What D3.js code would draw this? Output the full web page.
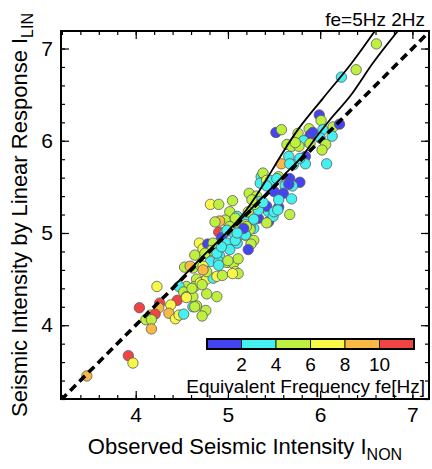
<!DOCTYPE html>
<html>
<head>
<meta charset="utf-8">
<script src="https://cdn.jsdelivr.net/npm/d3@7"></script>
<style>
  html, body { margin: 0; padding: 0; background: #fff; }
  svg { display: block; font-family: "Liberation Sans", Arial, sans-serif; }
</style>
</head>
<body>
<div id="chart"></div>
<script>
// observed (nonlinear) vs linear-response seismic intensity, coloured by equivalent frequency

const iNon = [6.61, 6.39, 6.23, 5.99, 6.01, 5.52, 5.58, 5.76, 5.88, 5.89, 5.92, 6.03, 6.14, 6.21, 6.13, 6.00,
    5.82, 6.06, 6.02, 5.64, 5.69, 5.77, 5.66, 5.84, 5.73,
    5.58, 5.71, 5.84, 6.07, 5.36, 5.44, 5.38, 5.55, 5.67, 5.78, 5.70, 5.62, 5.46, 5.23, 5.31, 5.50, 5.60,
    5.55, 5.69, 5.67, 4.81, 4.90, 5.05, 5.02, 4.97, 4.91, 4.86, 5.10, 5.20, 5.28, 5.33, 5.44,
    4.90, 4.97, 5.06, 5.13, 4.93, 5.20, 5.28, 5.25, 5.22, 4.69, 4.73, 4.78, 4.84, 4.91, 4.99, 5.02, 4.91,
    4.64, 4.53, 4.62, 4.70, 4.59, 4.81, 4.90, 4.99, 5.06, 5.11, 5.08, 5.11, 4.66, 4.73, 4.55, 4.64, 4.70,
    4.77, 4.84, 4.88, 4.77, 4.88, 4.23, 4.47, 4.52, 4.55, 4.04, 4.26, 4.45, 4.38, 4.62, 4.76, 4.72,
    4.25, 4.36, 4.11, 4.16, 4.21, 4.17, 4.43, 4.47, 4.52, 4.17, 3.92, 3.97, 3.47,
    5.10, 5.24, 5.19, 5.13, 5.08, 4.82, 4.73, 4.77, 4.94, 4.62, 5.35, 5.55, 5.44, 5.33, 5.42, 5.42,
    5.22, 5.33, 5.49,
    5.66, 5.29, 5.50, 5.54, 5.08, 5.28, 5.42, 5.24, 5.19, 4.88, 4.93, 4.90, 5.00, 4.72, 4.61, 4.55,
    4.66, 5.46, 5.53, 5.42, 5.26, 5.38, 5.89, 5.67, 5.78, 5.05, 5.02, 5.20, 5.17, 5.10, 4.99, 4.75,
    4.73, 4.64];
const iLin = [7.05, 6.77, 6.69, 6.28, 6.22, 6.09, 6.12, 6.08, 6.13, 6.06, 6.09, 6.12, 6.15, 6.18, 6.05, 6.03,
    6.00, 5.96, 5.90, 5.96, 5.94, 5.94, 5.83, 5.83, 5.98,
    5.75, 5.74, 5.75, 5.75, 5.61, 5.56, 5.65, 5.61, 5.59, 5.55, 5.51, 5.51, 5.52, 5.43, 5.40, 5.45, 5.43,
    5.28, 5.37, 5.20, 5.31, 5.31, 5.35, 5.23, 5.14, 5.13, 5.12, 5.18, 5.12, 5.05, 5.16, 5.12,
    5.01, 5.01, 5.00, 4.98, 4.95, 4.97, 4.92, 4.88, 4.82, 4.89, 4.83, 4.88, 4.89, 4.85, 4.89, 4.82, 4.75,
    4.76, 4.63, 4.62, 4.65, 4.64, 4.69, 4.69, 4.68, 4.67, 4.72, 4.58, 4.56, 4.50, 4.47, 4.42, 4.42, 4.46,
    4.50, 4.51, 4.53, 4.34, 4.31, 4.42, 4.42, 4.36, 4.31, 4.19, 4.24, 4.27, 4.22, 4.20, 4.16, 4.10,
    4.19, 4.13, 4.06, 4.11, 4.12, 4.06, 4.07, 4.11, 4.12, 3.96, 3.67, 3.59, 3.45,
    4.89, 5.07, 5.09, 5.04, 4.92, 4.81, 4.64, 4.58, 4.54, 4.31, 5.54, 5.36, 5.23, 5.34, 5.57, 5.29,
    5.23, 5.25, 5.18,
    5.53, 5.31, 5.23, 5.25, 5.16, 5.15, 5.11, 5.04, 4.98, 4.78, 4.85, 4.65, 4.70, 4.44, 4.40, 4.30,
    4.21, 5.57, 5.59, 5.51, 5.36, 5.33, 5.97, 5.75, 5.81, 4.56, 5.07, 5.07, 5.05, 5.00, 5.03, 4.78,
    4.60, 4.20];
const feHz = [5, 5, 3, 1.5, 5, 1.5, 5, 5, 5, 1.5, 1.5, 3, 5, 1.5, 3, 3,
    3, 5, 5, 5, 5, 5, 3, 1.5, 5,
    9, 3, 3, 3, 3, 3, 5, 5, 1.5, 1.5, 3, 3, 3, 5, 5, 1.5, 1.5,
    1.5, 3, 5, 7, 5, 5, 5, 5, 9, 5, 3, 3, 3, 1.5, 1.5,
    11, 3, 3, 3, 1.5, 7, 5, 5, 1.5, 7, 7, 1.5, 5, 5, 3, 3, 3,
    5, 5, 5, 5, 9, 3, 3, 5, 5, 5, 7, 5, 5, 5, 5, 5, 7,
    7, 3, 7, 5, 5, 7, 3, 5, 5, 11, 11, 11, 7, 3, 5, 5,
    9, 9, 5, 7, 11, 5, 7, 7, 3, 9, 11, 7, 9,
    3, 3, 5, 5, 3, 5, 7, 5, 5, 5, 3, 3, 3, 3, 7, 1.5,
    5, 3, 3,
    1.5, 5, 3, 3, 5, 3, 5, 5, 3, 3, 3, 3, 5, 5, 5, 7,
    5, 3, 3, 3, 5, 3, 5, 3, 3, 7, 5, 5, 1.5, 3, 3, 5,
    9, 5];

// I_LIN / I_NON relations for two equivalent frequencies
const curve5x = [4.42, 4.7, 5.0, 5.2, 5.4, 5.55, 5.73, 6.03, 6.34, 6.6];
const curve5y = [4.43, 4.72, 5.02, 5.25, 5.55, 5.8, 6.08, 6.46, 6.84, 7.2];
const curve2x = [5.05, 5.3, 5.6, 5.82, 5.95, 6.1, 6.33, 6.57, 6.85];
const curve2y = [5.06, 5.31, 5.62, 5.85, 6.03, 6.22, 6.49, 6.84, 7.2];

const xTicks = [4, 5, 6, 7];
const yTicks = [4, 5, 6, 7];
const feBreaks = [2, 4, 6, 8, 10];
const feColors = ['#4444f2', '#44f0f0', '#bef040', '#f8f846', '#f8ba44', '#f04444'];

function renderChart() {
    const width = 432, height = 469;
    const plot = { left: 61, top: 31, right: 429, bottom: 399 };

    const svg = d3.select('#chart').append('svg')
        .attr('width', width)
        .attr('height', height);

    const x = d3.scaleLinear().domain([3.19, 7.18]).range([plot.left, plot.right]);
    const y = d3.scaleLinear().domain([3.2, 7.19]).range([plot.bottom, plot.top]);
    const color = d3.scaleThreshold().domain(feBreaks).range(feColors);

    svg.append('defs').append('clipPath').attr('id', 'clip')
        .append('rect')
        .attr('x', plot.left).attr('y', plot.top)
        .attr('width', plot.right - plot.left).attr('height', plot.bottom - plot.top);

    // points
    const points = d3.range(iNon.length).map(i => ({ x: iNon[i], y: iLin[i], fe: feHz[i] }));
    svg.append('g').attr('clip-path', 'url(#clip)')
        .selectAll('circle').data(points).enter().append('circle')
        .attr('cx', d => x(d.x))
        .attr('cy', d => y(d.y))
        .attr('r', 5.2)
        .attr('fill', d => color(d.fe))
        .attr('stroke', '#5a5a5a')
        .attr('stroke-width', 0.8);

    // curves + 1:1 line
    const lines = svg.append('g').attr('clip-path', 'url(#clip)');
    const line = d3.line().x(d => x(d[0])).y(d => y(d[1]));
    lines.append('path')
        .attr('d', line([[3.19, 3.19], [7.19, 7.19]]))
        .attr('fill', 'none').attr('stroke', '#000')
        .attr('stroke-width', 3.6).attr('stroke-dasharray', '8,5');
    const smooth = d3.line().x(d => x(d[0])).y(d => y(d[1])).curve(d3.curveMonotoneX);
    [[curve5x, curve5y], [curve2x, curve2y]].forEach(([cx, cy]) => {
        lines.append('path')
            .attr('d', smooth(cx.map((v, i) => [v, cy[i]])))
            .attr('fill', 'none').attr('stroke', '#000').attr('stroke-width', 1.8);
    });

    // axes, ticks pointing inward on all four sides
    const minor = d3.range(3.2, 7.19, 0.2).map(v => +v.toFixed(1));
    const addAxis = (axis, tr, vals, size, fmt) => {
        const g = svg.append('g').attr('transform', tr)
            .call(axis.tickValues(vals).tickSize(size).tickPadding(8).tickFormat(fmt));
        g.select('.domain').remove();
        g.selectAll('line').attr('stroke', '#000').attr('stroke-width', 1.2);
        g.selectAll('text').style('font-size', '21px').attr('fill', '#000').style('font-family', 'Liberation Sans, Arial, sans-serif');
        return g;
    };
    const bottomT = `translate(0,${plot.bottom})`, topT = `translate(0,${plot.top})`;
    const leftT = `translate(${plot.left},0)`, rightT = `translate(${plot.right},0)`;
    addAxis(d3.axisBottom(x), bottomT, minor, -4, '');
    addAxis(d3.axisBottom(x), bottomT, xTicks, -8, d3.format('d'));
    addAxis(d3.axisTop(x), topT, minor, -4, '');
    addAxis(d3.axisTop(x), topT, xTicks, -8, '');
    addAxis(d3.axisLeft(y), leftT, minor, -4, '');
    addAxis(d3.axisLeft(y), leftT, yTicks, -8, d3.format('d'));
    addAxis(d3.axisRight(y), rightT, minor, -4, '');
    addAxis(d3.axisRight(y), rightT, yTicks, -8, '');

    svg.append('rect')
        .attr('x', plot.left).attr('y', plot.top)
        .attr('width', plot.right - plot.left).attr('height', plot.bottom - plot.top)
        .attr('fill', 'none').attr('stroke', '#000').attr('stroke-width', 2);

    // axis titles
    const xTitle = svg.append('text')
        .attr('x', (plot.left + plot.right) / 2).attr('y', 454)
        .attr('text-anchor', 'middle').style('font-size', '22px')
        .text('Observed Seismic Intensity I');
    xTitle.append('tspan').attr('dy', 6).style('font-size', '16px').text('NON');

    const yTitle = svg.append('text')
        .attr('transform', `translate(27,${(plot.top + plot.bottom) / 2}) rotate(-90)`)
        .attr('text-anchor', 'middle').style('font-size', '22px')
        .text('Seismic Intensity by Linear Response I');
    yTitle.append('tspan').attr('dy', 6).style('font-size', '16px').text('LIN');

    svg.append('text')
        .attr('x', 425).attr('y', 26)
        .attr('text-anchor', 'end').style('font-size', '19px')
        .text('fe=5Hz 2Hz');

    // colour bar legend
    const cb = d3.scaleLinear().domain([0, 12]).range([207, 414]);
    const bins = [0].concat(feBreaks, [12]);
    const legend = svg.append('g');
    legend.selectAll('rect').data(feColors).enter().append('rect')
        .attr('x', (d, i) => cb(bins[i]))
        .attr('y', 339)
        .attr('width', (d, i) => cb(bins[i + 1]) - cb(bins[i]))
        .attr('height', 10)
        .attr('fill', d => d)
        .attr('stroke', '#222').attr('stroke-width', 1);
    legend.append('rect')
        .attr('x', cb(0)).attr('y', 339)
        .attr('width', cb(12) - cb(0)).attr('height', 10)
        .attr('fill', 'none').attr('stroke', '#000').attr('stroke-width', 2);
    legend.selectAll('text.cb').data(feBreaks).enter().append('text')
        .attr('class', 'cb')
        .attr('x', d => cb(d)).attr('y', 371)
        .attr('text-anchor', 'middle').style('font-size', '19px')
        .text(d => d);
    legend.append('text')
        .attr('x', 425).attr('y', 393)
        .attr('text-anchor', 'end').style('font-size', '19px')
        .text('Equivalent Frequency fe[Hz]');
}

renderChart();
</script>
</body>
</html>
